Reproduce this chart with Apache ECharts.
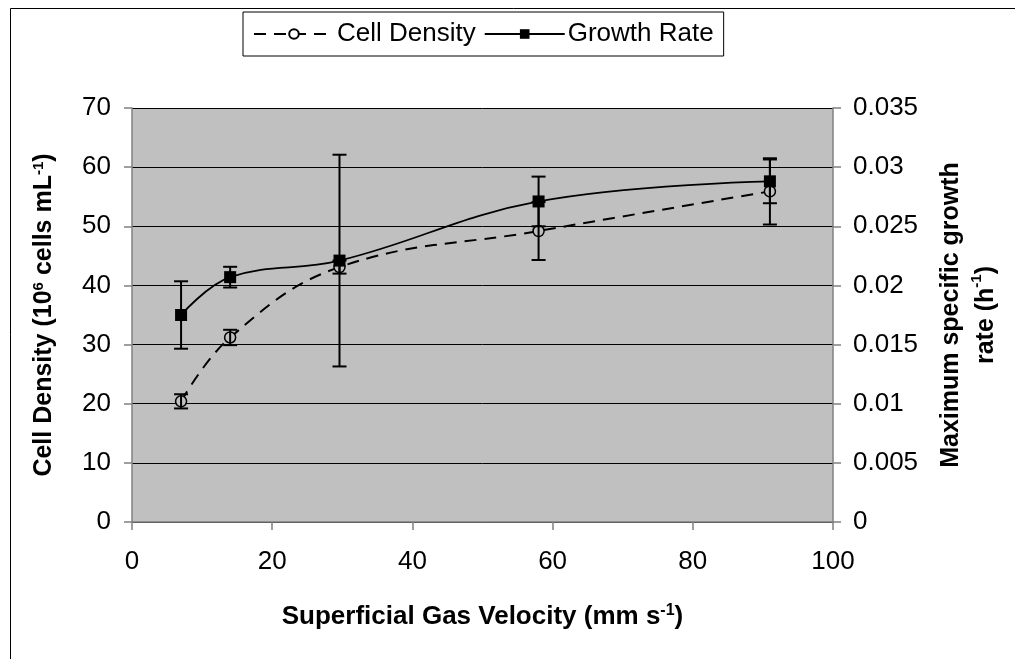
<!DOCTYPE html>
<html>
<head>
<meta charset="utf-8">
<title>Cell Density / Growth Rate</title>
<script src="https://cdn.jsdelivr.net/npm/echarts@6/dist/echarts.min.js"></script>
<style>
	html, body { margin: 0; padding: 0; background: #fff; }
	#chart { width: 1015px; height: 659px; }
</style>
</head>
<body>
<div id="chart"></div>
<script>
// gas velocity (mm/s)
var velocity = [7, 14, 29.6, 58, 91];
// cell density (10^6 cells/mL) and its error
var cellDensity = [20.4, 31.2, 43.1, 49.2, 55.9];
var cellDensityErr = [1.2, 1.3, 1.1, 4.9, 5.6];
// max specific growth rate (1/h) and its error
var growthRate = [0.0175, 0.0207, 0.0221, 0.0271, 0.0288];
var growthRateErr = [0.00285, 0.000875, 0.00895, 0.0021, 0.00185];

var leftTicks = [0, 10, 20, 30, 40, 50, 60, 70];
var rightTicks = ['0', '0.005', '0.01', '0.015', '0.02', '0.025', '0.03', '0.035'];

var FONT = 'Liberation Sans, Arial, sans-serif';

function pairs(xs, ys) {
	var out = [];
	for (var i = 0; i < xs.length; i++) {
		out.push([xs[i], ys[i]]);
	}
	return out;
}

function errData(xs, ys, es) {
	var out = [];
	for (var i = 0; i < xs.length; i++) {
		out.push([xs[i], ys[i] - es[i], ys[i] + es[i]]);
	}
	return out;
}

// 误差线
function renderErr(params, api) {
	var top = api.coord([api.value(0), api.value(2)]);
	var bot = api.coord([api.value(0), api.value(1)]);
	var w = 7;
	var st = { stroke: '#000', lineWidth: 2 };
	return {
		type: 'group',
		children: [
			{ type: 'line', shape: { x1: top[0], y1: top[1], x2: bot[0], y2: bot[1] }, style: st },
			{ type: 'line', shape: { x1: top[0] - w, y1: top[1], x2: top[0] + w, y2: top[1] }, style: st },
			{ type: 'line', shape: { x1: bot[0] - w, y1: bot[1], x2: bot[0] + w, y2: bot[1] }, style: st }
		]
	};
}

var myChart = echarts.init(document.getElementById('chart'));

var option = {
	backgroundColor: '#fff',
	animation: false,
	textStyle: { fontFamily: FONT },
	graphic: [{
		type: 'rect',
		left: 8, top: 6,
		shape: { width: 1100, height: 800 },
		style: { fill: 'none', stroke: '#000', lineWidth: 1 },
		silent: true
	}],
	legend: {
		left: 243, top: 12,
		padding: [9, 10, 9, 10],
		itemGap: 8,
		itemWidth: 80,
		itemHeight: 12,
		backgroundColor: '#fff',
		borderColor: '#000',
		borderWidth: 1,
		textStyle: { fontSize: 26, color: '#000', fontFamily: FONT, padding: [0, 0, 0, -2] },
		data: [
			{ name: 'Cell Density', itemStyle: { color: '#fff' } },
			{ name: 'Growth Rate' }
		]
	},
	grid: {
		left: 132, right: 182, top: 108, bottom: 137,
		show: true,
		backgroundColor: '#c0c0c0',
		borderWidth: 0
	},
	xAxis: {
		type: 'value',
		min: 0, max: 100, interval: 20,
		name: 'Superficial Gas Velocity (mm s{sup|-1})',
		nameLocation: 'middle',
		nameGap: 81,
		nameTextStyle: {
			fontSize: 26, fontWeight: 'bold', color: '#000', fontFamily: FONT,
			rich: { sup: { fontSize: 16, fontWeight: 'bold', verticalAlign: 'top', padding: [0, 0, 12, 0] } }
		},
		axisLine: { lineStyle: { color: '#808080', width: 1.5 } },
		axisTick: { inside: false, length: 8, lineStyle: { color: '#808080', width: 1.5 } },
		axisLabel: { fontSize: 26, color: '#000', margin: 27 },
		splitLine: { show: false }
	},
	yAxis: [{
		type: 'value',
		min: 0, max: 70, interval: 10,
		position: 'left',
		name: 'Cell Density (10{sup|6} cells mL{sup|-1})',
		nameLocation: 'middle',
		nameRotate: 90,
		nameGap: 75,
		nameTextStyle: {
			fontSize: 25, fontWeight: 'bold', color: '#000', fontFamily: FONT,
			rich: { sup: { fontSize: 15, fontWeight: 'bold', verticalAlign: 'top', padding: [0, 0, 11, 0] } }
		},
		axisLine: { show: true, lineStyle: { color: '#808080', width: 1.5 } },
		axisTick: { show: true, length: 8, lineStyle: { color: '#808080', width: 1.5 } },
		axisLabel: {
			fontSize: 26, color: '#000', margin: 21,
			formatter: function(v) { return leftTicks.indexOf(v) >= 0 ? String(v) : ''; }
		},
		splitLine: { show: true, lineStyle: { color: '#000', width: 1 } }
	}, {
		type: 'value',
		min: 0, max: 0.035, interval: 0.005,
		position: 'right',
		name: 'Maximum specific growth\nrate (h{sup|-1})',
		nameLocation: 'middle',
		nameRotate: 90,
		nameGap: 101,
		nameTextStyle: {
			fontSize: 25, fontWeight: 'bold', color: '#000', fontFamily: FONT,
			lineHeight: 35, align: 'center',
			rich: { sup: { fontSize: 15, fontWeight: 'bold', verticalAlign: 'top', lineHeight: 35, padding: [0, 0, 11, 0] } }
		},
		axisLine: { show: true, lineStyle: { color: '#808080', width: 1.5 } },
		axisTick: { show: true, length: 8, lineStyle: { color: '#808080', width: 1.5 } },
		axisLabel: {
			fontSize: 26, color: '#000', margin: 20,
			formatter: function(v) { return rightTicks[Math.round(v / 0.005)]; }
		},
		splitLine: { show: false }
	}],
	series: [{
		name: 'Cell Density',
		type: 'line',
		yAxisIndex: 0,
		data: pairs(velocity, cellDensity),
		smooth: 0.4,
		symbol: 'circle',
		symbolSize: 11,
		z: 2,
		lineStyle: { color: '#000', width: 2, type: [12, 8] },
		itemStyle: { color: '#c0c0c0', borderColor: '#000', borderWidth: 1.5 }
	}, {
		name: 'Growth Rate',
		type: 'line',
		yAxisIndex: 1,
		data: pairs(velocity, growthRate),
		smooth: 0.4,
		symbol: 'rect',
		symbolSize: 12,
		z: 4,
		lineStyle: { color: '#000', width: 1.8 },
		itemStyle: { color: '#000' }
	}, {
		type: 'custom',
		yAxisIndex: 0,
		renderItem: renderErr,
		data: errData(velocity, cellDensity, cellDensityErr),
		z: 3,
		silent: true
	}, {
		type: 'custom',
		yAxisIndex: 1,
		renderItem: renderErr,
		data: errData(velocity, growthRate, growthRateErr),
		z: 3,
		silent: true
	}]
};
myChart.setOption(option, true);
</script>
</body>
</html>
